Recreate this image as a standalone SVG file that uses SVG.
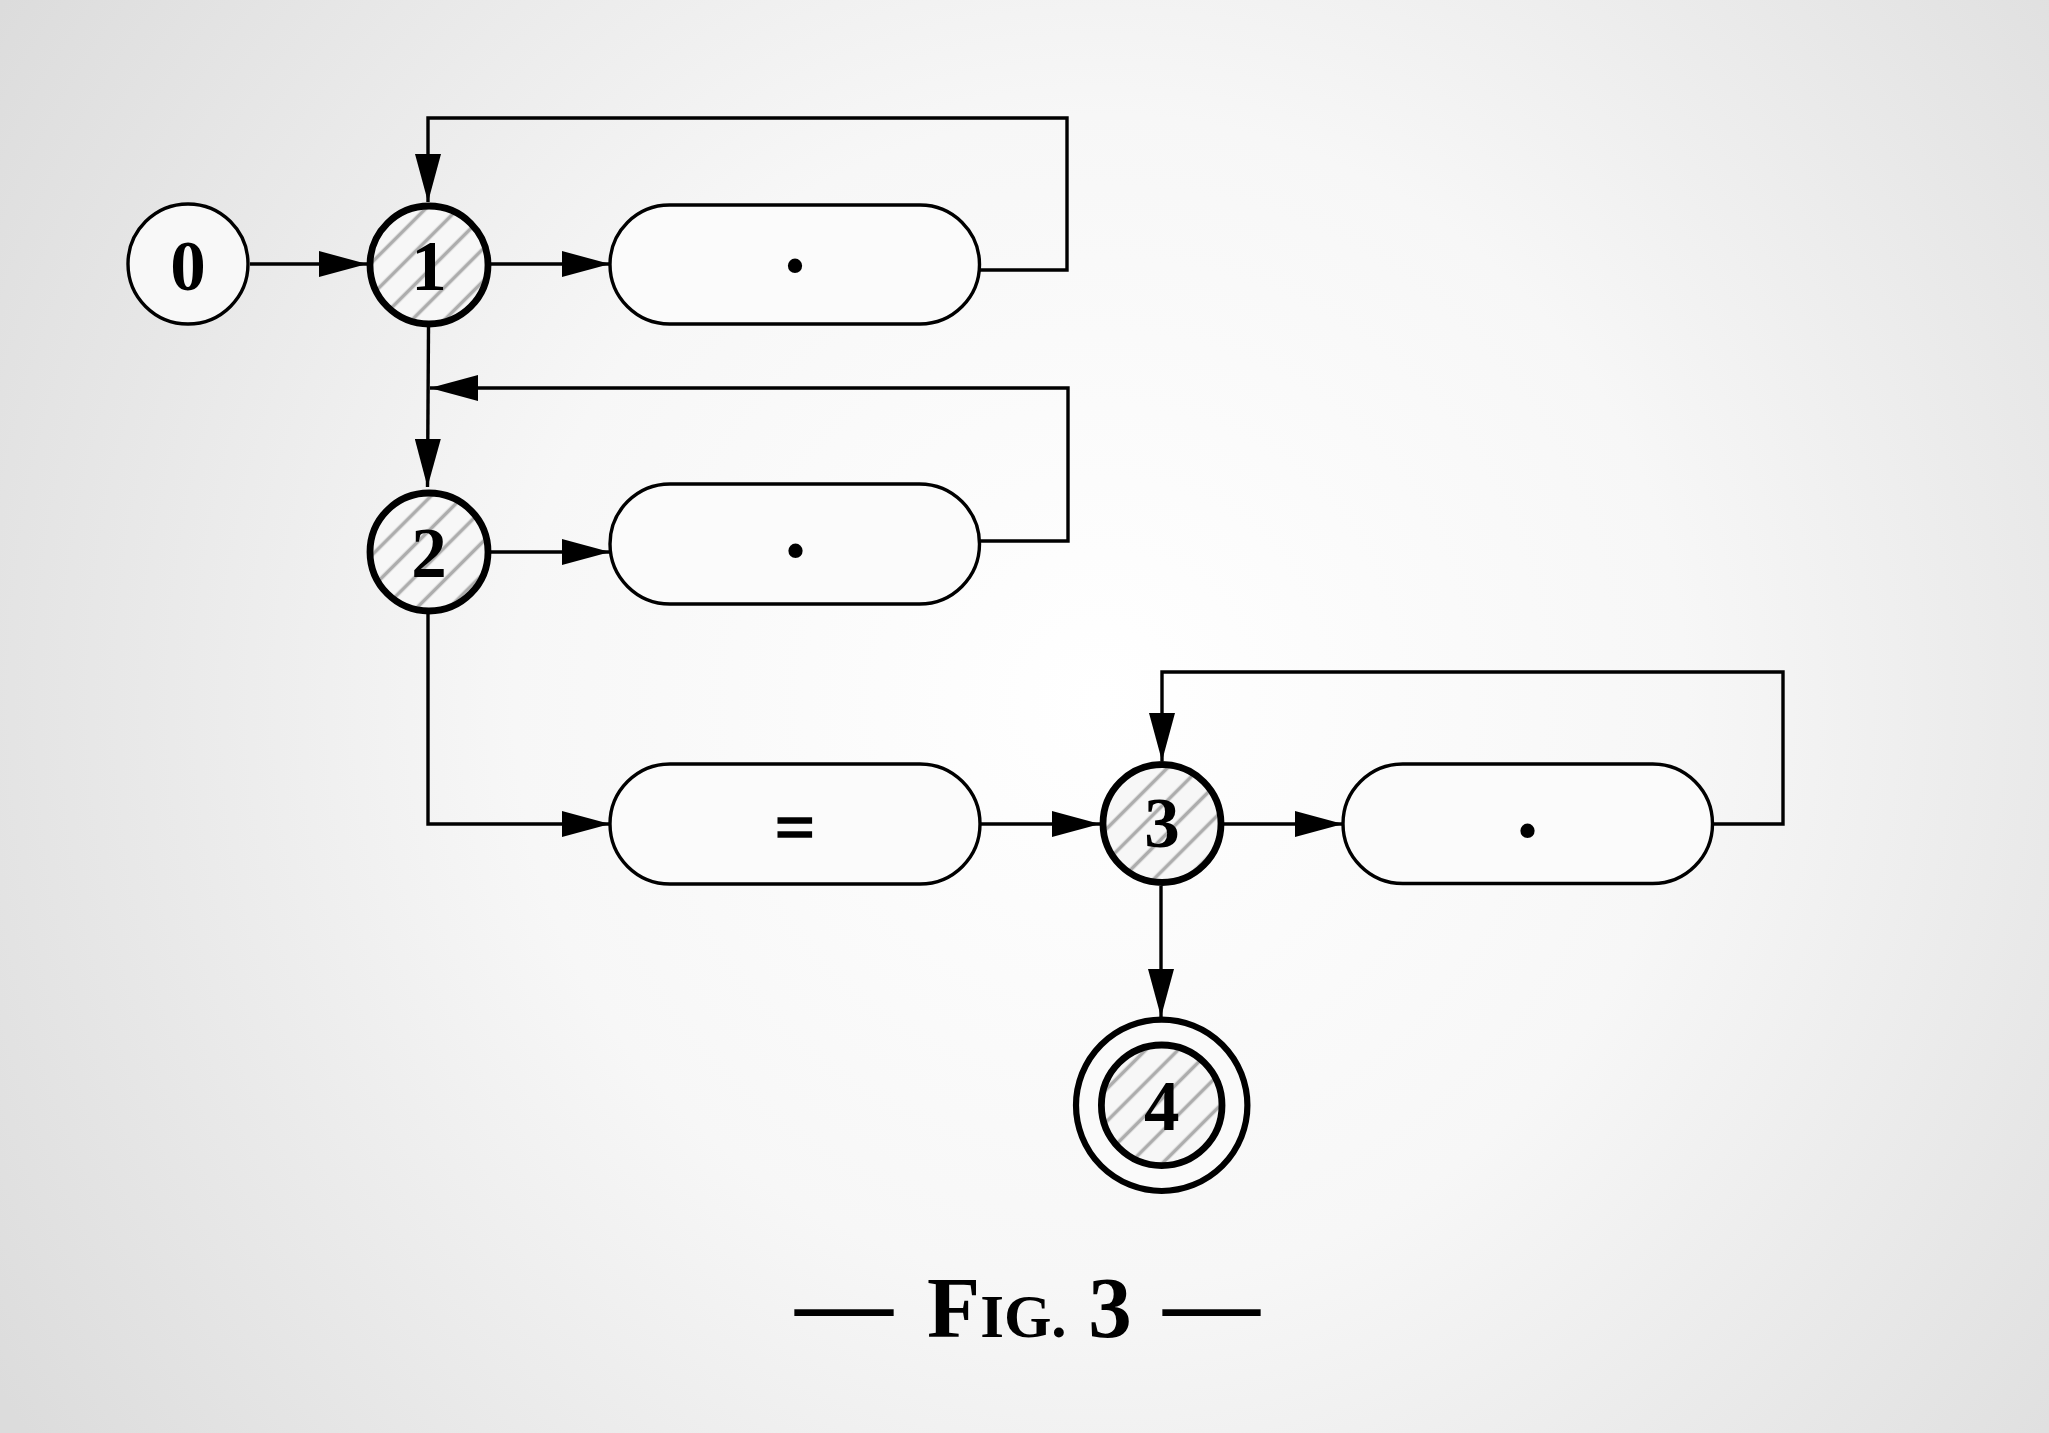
<svg xmlns="http://www.w3.org/2000/svg" width="2049" height="1433" viewBox="0 0 2049 1433">
<defs>
<radialGradient id="bg" cx="1100" cy="700" r="1300" gradientUnits="userSpaceOnUse">
<stop offset="0" stop-color="#ffffff"/>
<stop offset="0.45" stop-color="#f7f7f7"/>
<stop offset="1" stop-color="#dcdcdc"/>
</radialGradient>
<pattern id="hatch" patternUnits="userSpaceOnUse" width="24" height="23" patternTransform="rotate(-45)">
<rect width="24" height="23" fill="#f7f7f7"/>
<line x1="0" y1="11.5" x2="24" y2="11.5" stroke="#adadad" stroke-width="3.6"/>
</pattern>
<marker id="arr" markerUnits="userSpaceOnUse" markerWidth="48" markerHeight="26" refX="48" refY="13" orient="auto">
<path d="M0,0 L48,13 L0,26 Z" fill="#000"/>
</marker>
<style>
.box{fill:#fbfbfb;stroke:#000;stroke-width:3.4}
.plain{fill:#f8f8f8;stroke:#000;stroke-width:3.4}
.thick{fill:url(#hatch);stroke:#000;stroke-width:6.8}
.ring{fill:#fafafa;stroke:#000;stroke-width:6.2}
.edge{fill:none;stroke:#000;stroke-width:3.4;marker-end:url(#arr)}
.lbl{font-family:"Liberation Serif","DejaVu Serif",serif;font-weight:bold;font-size:71px;text-anchor:middle;fill:#000}
.sym{font-family:"Liberation Serif","DejaVu Serif",serif;font-weight:bold;font-size:88px;text-anchor:middle;fill:#000}
.cap{font-family:"Liberation Serif","DejaVu Serif",serif;font-weight:bold;fill:#000}
</style>
</defs>
<rect x="0" y="0" width="2049" height="1433" fill="url(#bg)"/>

<g id="connectors">
<path class="edge" d="M250,264 H367"/>
<path class="edge" d="M491,264 H610"/>
<path class="edge" d="M979,270 H1067 V118 H428 V202"/>
<path class="edge" d="M428.5,327 L427.5,487"/>
<path class="edge" d="M979,541 H1068 V388 H430"/>
<path class="edge" d="M491,552 H610"/>
<path class="edge" d="M428,614 V824 H610"/>
<path class="edge" d="M980,824 H1100"/>
<path class="edge" d="M1224,824 H1343"/>
<path class="edge" d="M1713,824 H1783 V672 H1162 V761"/>
<path class="edge" d="M1161,886 V1017"/>
</g>

<g id="node0">
<circle class="plain" cx="188" cy="264" r="60"/>
<text class="lbl" x="188" y="290">0</text>
</g>
<g id="node1">
<circle class="thick" cx="429" cy="265" r="59"/>
<text class="lbl" x="429" y="290">1</text>
</g>
<g id="box1">
<rect class="box" x="610" y="205" width="369.5" height="119" rx="59.5" ry="59.5"/>
<text class="sym" x="795" y="272">.</text>
</g>
<g id="node2">
<circle class="thick" cx="429" cy="552" r="59"/>
<text class="lbl" x="429" y="577">2</text>
</g>
<g id="box2">
<rect class="box" x="610" y="484" width="369.5" height="120" rx="60" ry="60"/>
<text class="sym" x="795.5" y="557">.</text>
</g>
<g id="box3">
<rect class="box" x="610" y="764" width="370" height="120" rx="60" ry="60"/>
<text class="lbl" x="795" y="851" font-size="88" stroke="#000" stroke-width="1.6">=</text>
</g>
<g id="node3">
<circle class="thick" cx="1162" cy="823.5" r="59"/>
<text class="lbl" x="1162" y="847">3</text>
</g>
<g id="box4">
<rect class="box" x="1343" y="764" width="369.5" height="119.5" rx="59.75" ry="59.75"/>
<text class="sym" x="1527.5" y="837">.</text>
</g>
<g id="node4">
<circle class="ring" cx="1161.7" cy="1105.3" r="85.7"/>
<circle class="thick" cx="1161.7" cy="1105.3" r="60.3" stroke-width="6.2"/>
<text class="lbl" x="1161.7" y="1130">4</text>
</g>

<g id="caption">
<text class="cap"><tspan x="795" y="1335" font-size="98">—</tspan><tspan x="927" y="1337" font-size="87">F<tspan font-size="61">IG.</tspan> 3</tspan><tspan x="1163" y="1335" font-size="97">—</tspan></text>
</g>
</svg>
